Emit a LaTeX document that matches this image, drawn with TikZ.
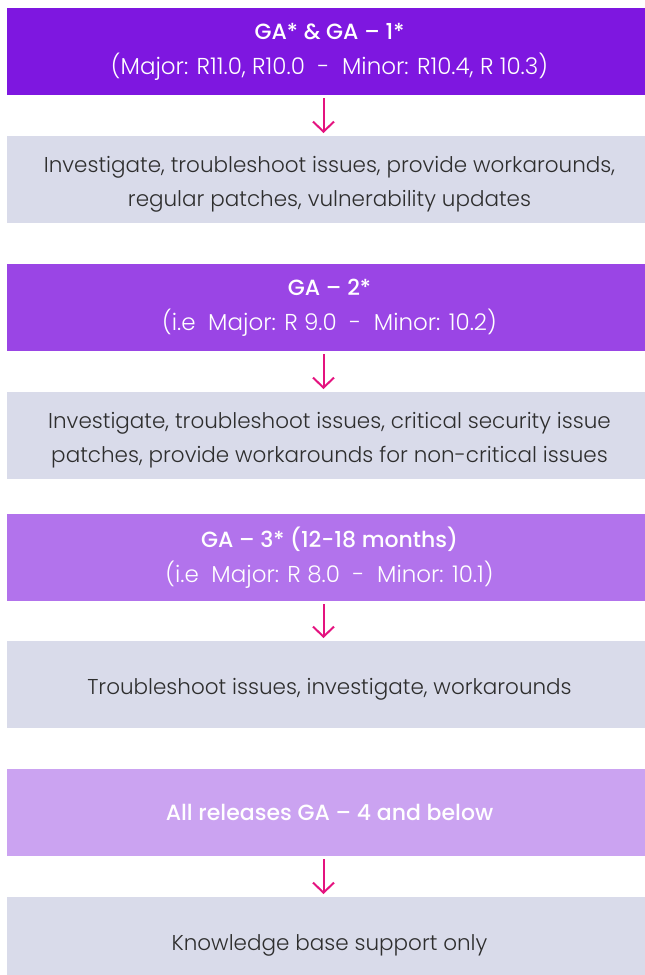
\documentclass[tikz,border=0pt]{standalone}
\usepackage{fontspec}
\usetikzlibrary{arrows.meta}
\IfFontExistsTF{Poppins Light}{\newfontfamily\lightf{Poppins Light}}{\newfontfamily\lightf{Poppins}}
\IfFontExistsTF{Poppins Medium}{\newfontfamily\boldf{Poppins Medium}}{\newfontfamily\boldf{Poppins}[FakeBold=1.5]}
\setmainfont{Poppins}
\definecolor{cA}{HTML}{7E17E0}
\definecolor{cB}{HTML}{9A45E5}
\definecolor{cC}{HTML}{B273EC}
\definecolor{cD}{HTML}{CBA3F1}
\definecolor{grayb}{HTML}{D9DBEA}
\definecolor{pinkarr}{HTML}{E4137F}
\definecolor{txt}{HTML}{2E2E2E}
\tikzset{
  band/.style={rectangle, inner sep=0pt, outer sep=0pt, minimum width=645pt, minimum height=87pt, align=center},
  hdr/.style={band, text=white, font=\lightf\fontsize{23}{35}\selectfont},
  info/.style={band, fill=grayb, text=txt, font=\lightf\fontsize{21.5}{34}\selectfont},
  flow/.style={draw=pinkarr, line width=2pt, -{Straight Barb[length=10pt,width=21pt,line width=2pt]}, shorten <=3pt, shorten >=3pt}
}
\newcommand{\hfirst}[1]{{\boldf\fontsize{22}{35}\selectfont #1}}
\newcommand{\dn}[1]{\raisebox{-3pt}[\height][\depth]{\begin{tabular}{@{}c@{}}#1\end{tabular}}}
\begin{document}
\begin{tikzpicture}[x=1pt,y=-1pt]
\useasboundingbox (0,0) rectangle (645,975);
\node[hdr, fill=cA] (b1) at (329.5,51.5) {\hfirst{GA* \& GA – 1*}\\(Major: R11.0, R10.0\ \ -\ \ Minor: R10.4, R 10.3)};
\node[info] (g1) at (329.5,179.5) {\dn{Investigate, troubleshoot issues, provide workarounds,\\regular patches, vulnerability updates}};
\node[hdr, fill=cB] (b2) at (329.5,307.5) {\hfirst{GA – 2*}\\(i.e\ \ Major: R 9.0\ \ -\ \ Minor: 10.2)};
\node[info] (g2) at (329.5,435.5) {\dn{Investigate, troubleshoot issues, critical security issue\\patches, provide workarounds for non-critical issues}};
\node[hdr, fill=cC] (b3) at (329.5,557.5) {\hfirst{GA – 3* (12-18 months)}\\(i.e\ \ Major: R 8.0\ \ -\ \ Minor: 10.1)};
\node[info] (g3) at (329.5,684.5) {\dn{Troubleshoot issues, investigate, workarounds}};
\node[hdr, fill=cD] (b4) at (329.5,812.5) {\hfirst{All releases GA – 4 and below}};
\node[info] (g4) at (329.5,940.5) {\dn{Knowledge base support only}};
\foreach \a/\b in {b1/g1,b2/g2,b3/g3,b4/g4}{
  \draw[flow] ([xshift=-6pt]\a.south) -- ([xshift=-6pt]\b.north);
}
\end{tikzpicture}
\end{document}
